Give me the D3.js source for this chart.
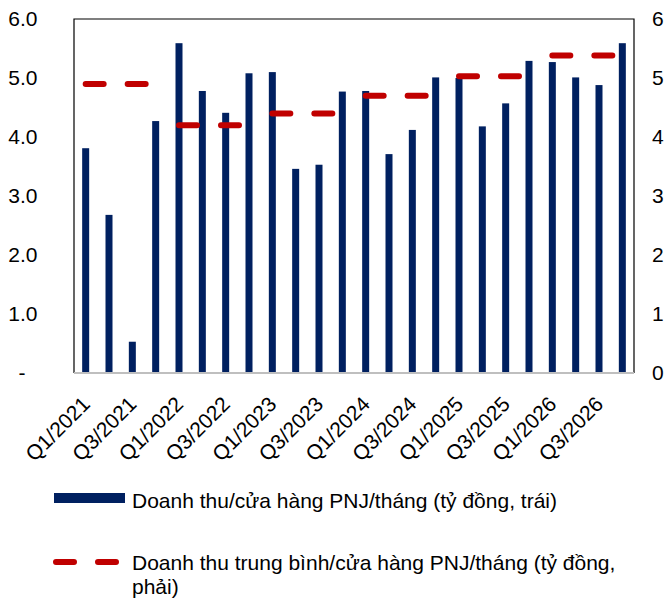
<!DOCTYPE html>
<html>
<head>
<meta charset="utf-8">
<script src="https://cdn.jsdelivr.net/npm/d3@7"></script>
<style>
  html, body { margin: 0; padding: 0; background: #fff; }
  svg { display: block; font-family: "Liberation Sans", Arial, sans-serif; }
</style>
</head>
<body>
<svg id="chart" width="665" height="599"></svg>
<script>
// Quarterly revenue per PNJ store per month (bn VND, left axis)
const quarters = [
  "Q1/2021","Q2/2021","Q3/2021","Q4/2021",
  "Q1/2022","Q2/2022","Q3/2022","Q4/2022",
  "Q1/2023","Q2/2023","Q3/2023","Q4/2023",
  "Q1/2024","Q2/2024","Q3/2024","Q4/2024",
  "Q1/2025","Q2/2025","Q3/2025","Q4/2025",
  "Q1/2026","Q2/2026","Q3/2026","Q4/2026"
];
const revenuePerStore = [
  3.81, 2.68, 0.53, 4.27,
  5.59, 4.78, 4.41, 5.08,
  5.10, 3.46, 3.53, 4.77,
  4.78, 3.71, 4.12, 5.01,
  5.00, 4.18, 4.57, 5.29,
  5.27, 5.01, 4.88, 5.59
];
// Yearly average revenue per store per month (bn VND, right axis)
const years = ["2021","2022","2023","2024","2025","2026"];
const yearlyAverage = [4.90, 4.20, 4.40, 4.70, 5.03, 5.38];

const leftTicks = [0, 1, 2, 3, 4, 5, 6];
const leftTickLabels = ["-", "1.0", "2.0", "3.0", "4.0", "5.0", "6.0"];
const rightTicks = [0, 1, 2, 3, 4, 5, 6];
const xTickLabels = quarters.filter((q, i) => i % 2 === 0);

const legendLabels = [
  "Doanh thu/cửa hàng PNJ/tháng (tỷ đồng, trái)",
  ["Doanh thu trung bình/cửa hàng PNJ/tháng (tỷ đồng,", "phải)"]
];

const barColor = "#002060";
const lineColor = "#C00000";
const fontSize = 21;

const svg = d3.select("#chart");
const plot = { left: 74, right: 634, top: 19, bottom: 373 };

const x = d3.scaleBand()
  .domain(quarters)
  .range([plot.left, plot.right])
  .paddingInner(0.7)
  .paddingOuter(0.35);

const yLeft = d3.scaleLinear().domain([0, 6]).range([plot.bottom, plot.top]);
const yRight = d3.scaleLinear().domain([0, 6]).range([plot.bottom, plot.top]);

// Bars
svg.append("g")
  .selectAll("rect")
  .data(quarters.map((q, i) => ({ q, v: revenuePerStore[i] })))
  .join("rect")
  .attr("x", d => x(d.q))
  .attr("width", x.bandwidth())
  .attr("y", d => yLeft(d.v))
  .attr("height", d => yLeft(0) - yLeft(d.v))
  .attr("fill", barColor);

// Yearly average: one dashed segment per year, spanning its four quarters
const avgPoints = quarters.map(q => ({
  q, year: q.slice(3), v: yearlyAverage[years.indexOf(q.slice(3))]
}));
const line = d3.line()
  .x(d => x(d.q) + x.bandwidth() / 2)
  .y(d => yRight(d.v));
svg.append("g")
  .selectAll("path")
  .data(d3.groups(avgPoints, d => d.year))
  .join("path")
  .attr("d", d => line(d[1]))
  .attr("fill", "none")
  .attr("stroke", lineColor)
  .attr("stroke-width", 6)
  .attr("stroke-linecap", "round")
  .attr("stroke-dasharray", "18,24");

// Plot frame: black top/left/right, grey baseline
const frame = svg.append("g");
frame.append("path")
  .attr("d", `M${plot.left},${plot.bottom}V${plot.top}H${plot.right}V${plot.bottom}`)
  .attr("fill", "none")
  .attr("stroke", "#000")
  .attr("stroke-width", 1.2);
frame.append("line")
  .attr("x1", plot.left).attr("x2", plot.right)
  .attr("y1", plot.bottom).attr("y2", plot.bottom)
  .attr("stroke", "#bfbfbf")
  .attr("stroke-width", 2);

// Left axis labels (accounting style: the zero dash sits further left)
const leftAxis = d3.axisLeft(yLeft)
  .tickValues(leftTicks)
  .tickFormat((d, i) => leftTickLabels[i])
  .tickSize(0)
  .tickPadding(36.5);
svg.append("g")
  .attr("transform", `translate(${plot.left},0)`)
  .call(leftAxis)
  .call(g => g.select(".domain").remove())
  .selectAll("text")
  .attr("font-size", fontSize)
  .attr("font-family", "Liberation Sans, Arial, sans-serif")
  .attr("fill", "#000")
  .attr("dx", d => d === 0 ? -12 : 0);

// Right axis labels
const rightAxis = d3.axisRight(yRight)
  .tickValues(rightTicks)
  .tickFormat(d3.format("d"))
  .tickSize(0)
  .tickPadding(18);
svg.append("g")
  .attr("transform", `translate(${plot.right},0)`)
  .call(rightAxis)
  .call(g => g.select(".domain").remove())
  .selectAll("text")
  .attr("font-size", fontSize)
  .attr("font-family", "Liberation Sans, Arial, sans-serif")
  .attr("fill", "#000");

// Bottom axis labels, every other quarter, rotated
svg.append("g")
  .selectAll("text")
  .data(xTickLabels)
  .join("text")
  .attr("transform", d => `translate(${x(d) + x.bandwidth() / 2 - 5},${plot.bottom + 22}) rotate(-45)`)
  .attr("text-anchor", "end")
  .attr("dy", "0.71em")
  .attr("font-size", fontSize)
  .attr("fill", "#000")
  .text(d => d);

// Legend
const legend = svg.append("g");
legend.append("rect")
  .attr("x", 54).attr("y", 493)
  .attr("width", 71).attr("height", 10)
  .attr("fill", barColor);
legend.append("text")
  .attr("x", 132).attr("y", 508)
  .attr("font-size", fontSize)
  .attr("fill", "#000")
  .text(legendLabels[0]);

legend.append("line")
  .attr("x1", 56).attr("x2", 116)
  .attr("y1", 562).attr("y2", 562)
  .attr("stroke", lineColor)
  .attr("stroke-width", 6)
  .attr("stroke-linecap", "round")
  .attr("stroke-dasharray", "18,24");
const t2 = legend.append("text")
  .attr("x", 132).attr("y", 570)
  .attr("font-size", fontSize)
  .attr("fill", "#000");
t2.selectAll("tspan")
  .data(legendLabels[1])
  .join("tspan")
  .attr("x", 132)
  .attr("dy", (d, i) => i === 0 ? 0 : 24)
  .text(d => d);
</script>
</body>
</html>
